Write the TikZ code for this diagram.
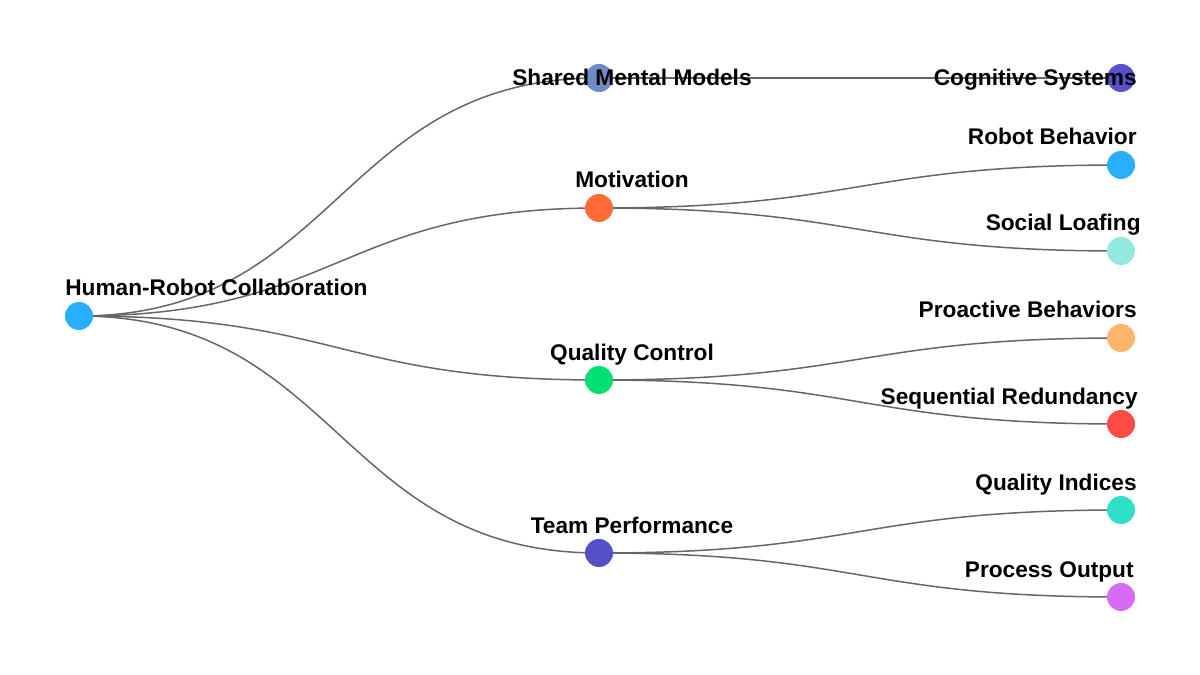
\documentclass[tikz,border=0pt]{standalone}
\usepackage{fontspec}
\setmainfont{Liberation Sans}
\usetikzlibrary{backgrounds,calc}

\definecolor{linkgray}{HTML}{666666}
\definecolor{cBlue}{HTML}{29AFFF}
\definecolor{cSteel}{HTML}{6C8EC4}
\definecolor{cIndigo}{HTML}{5A4FCF}
\definecolor{cOrange}{HTML}{FF6B35}
\definecolor{cAqua}{HTML}{93E8E0}
\definecolor{cApricot}{HTML}{FFB46B}
\definecolor{cRed}{HTML}{FF4B45}
\definecolor{cTeal}{HTML}{2EE0C8}
\definecolor{cViolet}{HTML}{D66BF5}
\definecolor{cGreen}{HTML}{00E073}
\definecolor{cPurple}{HTML}{5550C8}

\begin{document}
\begin{tikzpicture}[x=0.02cm, y=-0.02cm,
  dot/.style={circle, inner sep=0pt, minimum size=0.56cm},
  lbl/.style={font=\fontsize{12.9}{15}\selectfont\bfseries, inner sep=0pt},
  link/.style={draw=linkgray, line width=0.85pt}]

  \useasboundingbox (0,0) rectangle (1200,675);

  %%%%%%%%%%%%%%%%%%%%%%%%%%%%%%%%%%%%%%%%%%%%%%%%%
  % Root
  \node[dot, fill=cBlue] (hrc) at (79,316) {};

  % First level
  \node[dot, fill=cSteel]  (smm) at (599,78) {};
  \node[dot, fill=cOrange] (mot) at (599,208) {};
  \node[dot, fill=cGreen]  (qc)  at (599,380) {};
  \node[dot, fill=cPurple] (tp)  at (599,553) {};

  % Second level
  \node[dot, fill=cIndigo]   (cs)  at (1121,78) {};
  \node[dot, fill=cBlue]     (rb)  at (1121,165) {};
  \node[dot, fill=cAqua]     (sl)  at (1121,251) {};
  \node[dot, fill=cApricot]  (pb)  at (1121,338) {};
  \node[dot, fill=cRed]      (sr)  at (1121,424) {};
  \node[dot, fill=cTeal]     (qi)  at (1121,510) {};
  \node[dot, fill=cViolet]   (po)  at (1121,597) {};

  %%%%%%%%%%%%%%%%%%%%%%%%%%%%%%%%%%%%%%%%%%%%%%%%%
  % Labels
  \node[lbl, anchor=base west] (hrclbl) at (65,296) {Human-Robot Collaboration};

  \node[lbl, anchor=base] (smmlbl) at (632,86)  {Shared Mental Models};
  \node[lbl, anchor=base] (motlbl) at (632,188) {Motivation};
  \node[lbl, anchor=base] (qclbl)  at (632,360) {Quality Control};
  \node[lbl, anchor=base] (tplbl)  at (632,533) {Team Performance};

  \node[lbl, anchor=base east] (cslbl) at (1137,86)  {Cognitive Systems};
  \node[lbl, anchor=base east] (rblbl) at (1137,145) {Robot Behavior};
  \node[lbl, anchor=base east] (sllbl) at (1141,231) {Social Loafing};
  \node[lbl, anchor=base east] (pblbl) at (1137,318) {Proactive Behaviors};
  \node[lbl, anchor=base east] (srlbl) at (1138,404) {Sequential Redundancy};
  \node[lbl, anchor=base east] (qilbl) at (1137,490) {Quality Indices};
  \node[lbl, anchor=base east] (polbl) at (1134,577) {Process Output};

  %%%%%%%%%%%%%%%%%%%%%%%%%%%%%%%%%%%%%%%%%%%%%%%%%
  % Links
  \begin{scope}[on background layer]
    \foreach \a/\b in {hrc/smm, hrc/mot, hrc/qc, hrc/tp,
                       smm/cs, mot/rb, mot/sl, qc/pb, qc/sr, tp/qi, tp/po}
      \draw[link] let \p1=(\a.center), \p2=(\b.center) in
        (\p1) .. controls ({(\x1+\x2)/2},\y1) and ({(\x1+\x2)/2},\y2) .. (\p2);
  \end{scope}

\end{tikzpicture}
\end{document}
